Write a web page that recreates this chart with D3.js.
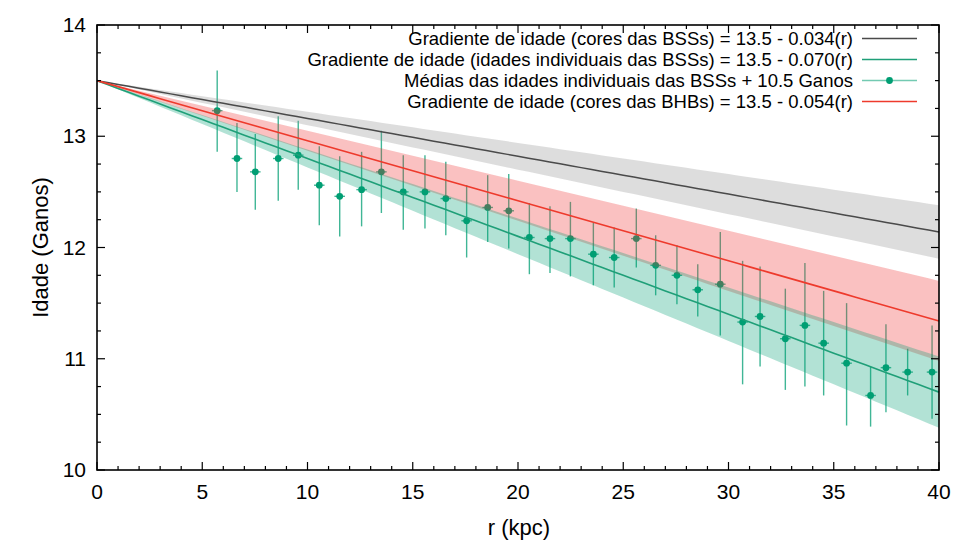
<!DOCTYPE html>
<html>
<head>
<meta charset="utf-8">
<script src="https://cdn.jsdelivr.net/npm/d3@7"></script>
<style>
  html, body { margin: 0; padding: 0; background: #fff; }
  svg { display: block; }
  text { font-family: "Liberation Sans", Arial, Helvetica, sans-serif; fill: #000; }
</style>
</head>
<body>
<svg id="chart" width="955" height="547"></svg>
<script>
// ---------------- data ----------------
const rValues = [5.71, 6.65, 7.52, 8.61, 9.56, 10.56, 11.53, 12.57, 13.51, 14.55,
  15.58, 16.57, 17.56, 18.56, 19.56, 20.54, 21.52, 22.49, 23.58, 24.57,
  25.62, 26.54, 27.55, 28.54, 29.61, 30.67, 31.50, 32.70, 33.63, 34.52,
  35.61, 36.75, 37.48, 38.51, 39.67];
const ageMeans = [13.23, 12.80, 12.68, 12.80, 12.83, 12.56, 12.46, 12.52, 12.68, 12.50,
  12.50, 12.44, 12.24, 12.36, 12.33, 12.09, 12.08, 12.08, 11.94, 11.91,
  12.08, 11.84, 11.75, 11.62, 11.67, 11.33, 11.38, 11.18, 11.30, 11.14,
  10.96, 10.67, 10.92, 10.88, 10.88];
const ageUpper = [13.59, 13.12, 13.02, 13.18, 13.14, 12.91, 12.82, 12.86, 13.05, 12.83,
  12.83, 12.77, 12.56, 12.65, 12.66, 12.40, 12.37, 12.41, 12.22, 12.18,
  12.35, 12.11, 12.02, 11.85, 12.14, 11.88, 11.83, 11.63, 11.86, 11.61,
  11.50, 10.93, 11.31, 11.09, 11.30];
const ageLower = [12.86, 12.50, 12.34, 12.42, 12.52, 12.20, 12.10, 12.19, 12.31, 12.16,
  12.17, 12.11, 11.91, 12.05, 11.99, 11.76, 11.77, 11.74, 11.66, 11.64,
  11.82, 11.57, 11.49, 11.38, 11.21, 10.77, 10.93, 10.72, 10.75, 10.67,
  10.40, 10.39, 10.52, 10.67, 10.46];
const rHalfWidth = 0.25;

const gradIntercept = 13.5;
const slopeColorsBSS = 0.034, bandColorsBSS = [0.028, 0.040];
const slopeIndivBSS = 0.070, bandIndivBSS = [0.062, 0.078];
const slopeColorsBHB = 0.054, bandColorsBHB = [0.045, 0.063];

const xTicks = [0, 5, 10, 15, 20, 25, 30, 35, 40];
const yTicks = [10, 11, 12, 13, 14];

const legendLabels = [
  "Gradiente de idade (cores das BSSs) = 13.5 - 0.034(r)",
  "Gradiente de idade (idades individuais das BSSs) = 13.5 - 0.070(r)",
  "Médias das idades individuais das BSSs + 10.5 Ganos",
  "Gradiente de idade (cores das BHBs) = 13.5 - 0.054(r)"
];

// ---------------- layout ----------------
const svg = d3.select("#chart");
const L = 97, R = 939, T = 25, B = 470;
const x = d3.scaleLinear().domain([0, 40]).range([L, R]);
const y = d3.scaleLinear().domain([10, 14]).range([B, T]);

const cGray = "#909090", cGrayLine = "#4a4a4a";
const cRed = "#ee3a2c", cRedBand = "#f03232";
const cGreen = "#1f9f78", cGreenBand = "#009e73";
const cPoint = "#009e73";

const plot = svg.append("g");

// data points with error bars (drawn below the translucent bands)
const pts = rValues.map((r, i) => ({ r, a: ageMeans[i], lo: ageLower[i], hi: ageUpper[i] }));
const gp = plot.append("g");
gp.selectAll("line.v").data(pts).join("line")
  .attr("x1", d => x(d.r)).attr("x2", d => x(d.r))
  .attr("y1", d => y(d.lo)).attr("y2", d => y(d.hi))
  .attr("stroke", cPoint).attr("stroke-opacity", 0.75).attr("stroke-width", 1.4);
gp.selectAll("line.h").data(pts).join("line")
  .attr("x1", d => x(d.r - rHalfWidth)).attr("x2", d => x(d.r + rHalfWidth))
  .attr("y1", d => y(d.a)).attr("y2", d => y(d.a))
  .attr("stroke", cPoint).attr("stroke-opacity", 0.75).attr("stroke-width", 1.4);
gp.selectAll("circle").data(pts).join("circle")
  .attr("cx", d => x(d.r)).attr("cy", d => y(d.a)).attr("r", 3.4)
  .attr("fill", cPoint);

// bands
const rGrid = d3.range(0, 40.0001, 0.5);
function band(slopes) {
  return d3.area()
    .x(r => x(r))
    .y0(r => y(gradIntercept - slopes[1] * r))
    .y1(r => y(gradIntercept - slopes[0] * r))(rGrid);
}
plot.append("path").attr("d", band(bandColorsBSS)).attr("fill", cGray).attr("fill-opacity", 0.3);
plot.append("path").attr("d", band(bandColorsBHB)).attr("fill", cRedBand).attr("fill-opacity", 0.3);
plot.append("path").attr("d", band(bandIndivBSS)).attr("fill", cGreenBand).attr("fill-opacity", 0.3);

// fit lines
function fitLine(slope) {
  return d3.line().x(r => x(r)).y(r => y(gradIntercept - slope * r))(rGrid);
}
plot.append("path").attr("d", fitLine(slopeColorsBSS)).attr("fill", "none").attr("stroke", cGrayLine).attr("stroke-width", 1.5);
plot.append("path").attr("d", fitLine(slopeIndivBSS)).attr("fill", "none").attr("stroke", cGreen).attr("stroke-width", 1.6);
plot.append("path").attr("d", fitLine(slopeColorsBHB)).attr("fill", "none").attr("stroke", cRed).attr("stroke-width", 1.6);

// ---------------- frame & ticks ----------------
const ax = svg.append("g").attr("stroke", "#000").attr("stroke-width", 1.2);
const majLen = 8, minLen = 4;
const xMinor = d3.range(0, 40.001, 1);
const yMinor = d3.range(10, 14.001, 0.25);
xMinor.forEach(v => {
  const len = xTicks.includes(v) ? majLen : minLen;
  ax.append("line").attr("x1", x(v)).attr("x2", x(v)).attr("y1", B).attr("y2", B - len);
  ax.append("line").attr("x1", x(v)).attr("x2", x(v)).attr("y1", T).attr("y2", T + len);
});
yMinor.forEach(v => {
  const len = yTicks.some(t => Math.abs(t - v) < 1e-6) ? majLen : minLen;
  ax.append("line").attr("x1", L).attr("x2", L + len).attr("y1", y(v)).attr("y2", y(v));
  ax.append("line").attr("x1", R).attr("x2", R - len).attr("y1", y(v)).attr("y2", y(v));
});
svg.append("rect").attr("x", L).attr("y", T).attr("width", R - L).attr("height", B - T)
  .attr("fill", "none").attr("stroke", "#000").attr("stroke-width", 1.6);

// tick labels
const tickFont = 21;
svg.append("g").selectAll("text").data(xTicks).join("text")
  .attr("x", d => x(d)).attr("y", B + 29).attr("text-anchor", "middle")
  .attr("font-size", tickFont).text(d => d);
svg.append("g").selectAll("text").data(yTicks).join("text")
  .attr("x", L - 11).attr("y", d => y(d) + 7).attr("text-anchor", "end")
  .attr("font-size", tickFont).text(d => d);

// axis titles
svg.append("text").attr("x", (L + R) / 2 + 1).attr("y", 535).attr("text-anchor", "middle")
  .attr("font-size", 22).text("r (kpc)");
svg.append("text").attr("transform", `translate(48,${(T + B) / 2}) rotate(-90)`)
  .attr("text-anchor", "middle").attr("font-size", 22).text("Idade (Ganos)");

// ---------------- legend ----------------
const lg = svg.append("g");
const legTextX = 853, legX1 = 862, legX2 = 917, legY0 = 38.5, legDY = 21;
legendLabels.forEach((t, i) => {
  lg.append("text").attr("x", legTextX).attr("y", legY0 + i * legDY + 6.5)
    .attr("text-anchor", "end").attr("font-size", 18.5).text(t);
});
const legColors = [cGrayLine, cGreen, null, cRed];
legColors.forEach((c, i) => {
  const yy = legY0 + i * legDY;
  if (c) {
    lg.append("line").attr("x1", legX1).attr("x2", legX2).attr("y1", yy).attr("y2", yy)
      .attr("stroke", c).attr("stroke-width", 1.6);
  } else {
    lg.append("line").attr("x1", legX1).attr("x2", legX2).attr("y1", yy).attr("y2", yy)
      .attr("stroke", cPoint).attr("stroke-opacity", 0.55).attr("stroke-width", 1.6);
    lg.append("circle").attr("cx", (legX1 + legX2) / 2).attr("cy", yy).attr("r", 3.4).attr("fill", cPoint);
  }
});
</script>
</body>
</html>
